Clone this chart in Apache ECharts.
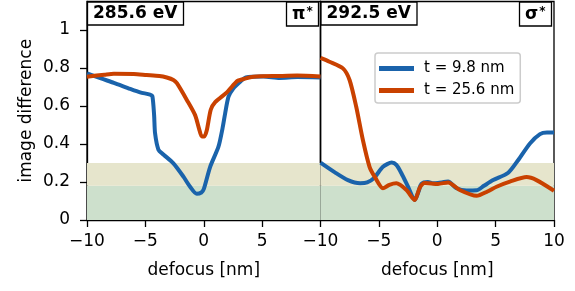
<!DOCTYPE html>
<html>
<head>
<meta charset="utf-8">
<script src="https://cdn.jsdelivr.net/npm/echarts@6/dist/echarts.min.js"></script>
<style>
  html, body { margin: 0; padding: 0; background: #fff; }
  #chart { width: 575px; height: 291px; }
</style>
</head>
<body>
<div id="chart"></div>
<script>
// 左图 285.6 eV (pi*)
var piX98 = [-10, -8.8, -7.7, -6.3, -5.45, -4.6, -4.4, -4.25, -4.17, -3.88, -3.46, -2.6, -1.74, -1.17, -0.6, -0.2, 0, 0.55, 1.26, 1.6, 1.83, 2.12, 2.5, 3.12, 3.6, 5.1, 6.5, 8, 10];
var piY98 = [0.772, 0.745, 0.722, 0.69, 0.672, 0.66, 0.652, 0.55, 0.456, 0.37, 0.345, 0.298, 0.228, 0.175, 0.138, 0.145, 0.162, 0.28, 0.386, 0.48, 0.56, 0.649, 0.69, 0.728, 0.75, 0.755, 0.748, 0.752, 0.75];
var piX256 = [-10, -8.5, -7.7, -6, -4.9, -3.8, -3.17, -2.6, -2.3, -1.45, -0.74, -0.4, -0.17, 0.05, 0.26, 0.6, 0.98, 1.98, 2.84, 3.12, 4.26, 6.5, 8, 10];
var piY256 = [0.754, 0.765, 0.77, 0.768, 0.763, 0.758, 0.75, 0.737, 0.72, 0.632, 0.552, 0.48, 0.44, 0.44, 0.472, 0.58, 0.62, 0.672, 0.73, 0.737, 0.754, 0.758, 0.76, 0.755];

// 右图 292.5 eV (sigma*)
var sigX98 = [-10, -8.8, -7.65, -6.6, -6.0, -5.4, -4.65, -3.9, -3.5, -3.07, -2.5, -1.93, -1.6, -1.36, -0.8, -0.36, 0.07, 0.93, 1.65, 2.5, 3.37, 4.0, 4.79, 6.08, 6.94, 7.94, 8.8, 9.4, 10];
var sigY98 = [0.302, 0.252, 0.21, 0.194, 0.198, 0.222, 0.28, 0.302, 0.29, 0.246, 0.175, 0.105, 0.15, 0.19, 0.2, 0.193, 0.195, 0.202, 0.167, 0.155, 0.156, 0.18, 0.21, 0.249, 0.316, 0.403, 0.452, 0.46, 0.46];
var sigX256 = [-10, -9.23, -8.08, -7.51, -6.94, -6.37, -5.8, -5.36, -4.65, -4.1, -3.5, -2.64, -1.93, -1.5, -1.07, 0.07, 0.93, 1.93, 3.37, 4.3, 5.08, 6.22, 7.65, 8.5, 10];
var sigY256 = [0.853, 0.833, 0.798, 0.737, 0.596, 0.421, 0.28, 0.228, 0.167, 0.185, 0.193, 0.158, 0.105, 0.17, 0.195, 0.19, 0.198, 0.158, 0.127, 0.15, 0.175, 0.202, 0.226, 0.21, 0.154];

var yTicks = [0, 0.2, 0.4, 0.6, 0.8, 1];
var bandLow = [0, 0.18];
var bandHigh = [0.18, 0.3];

var names = ['t = 9.8 nm', 't = 25.6 nm'];
var blue = '#1a63ab';
var orange = '#c94100';
var font = 'DejaVu Sans';

function pairs(xs, ys) {
    var out = [];
    for (var i = 0; i < xs.length; i++) {
        out.push([xs[i], ys[i]]);
    }
    return out;
}

function xAxisOf(idx, showMax) {
    return {
        type: 'value',
        gridIndex: idx,
        min: -10,
        max: 10,
        interval: 5,
        name: 'defocus [nm]',
        nameLocation: 'middle',
        nameGap: 42,
        nameTextStyle: { fontFamily: font, fontSize: 17, color: '#000' },
        axisLine: { onZero: false, lineStyle: { color: '#000', width: 1.3 } },
        axisTick: { show: true, inside: false, length: 7, lineStyle: { color: '#000', width: 1.3 } },
        axisLabel: {
            fontFamily: font, fontSize: 17, color: '#000', margin: 13,
            showMaxLabel: showMax, showMinLabel: true,
            formatter: function (v) { return String(v).replace('-', '\u2212'); }
        },
        splitLine: { show: false }
    };
}

function bandSeries(x, y) {
    return {
        type: 'line',
        xAxisIndex: x,
        yAxisIndex: y,
        data: [],
        silent: true,
        z: 1,
        markArea: {
            silent: true,
            data: [
                [{ yAxis: bandLow[0], itemStyle: { color: '#cde0cc' } }, { yAxis: bandLow[1] }],
                [{ yAxis: bandHigh[0], itemStyle: { color: '#e6e5cc' } }, { yAxis: bandHigh[1] }]
            ]
        }
    };
}

function lineSeries(name, idx, d, color) {
    return {
        name: name,
        type: 'line',
        xAxisIndex: idx,
        yAxisIndex: idx,
        data: d,
        smooth: 0.25,
        showSymbol: false,
        z: 3,
        lineStyle: { color: color, width: 4 },
        itemStyle: { color: color }
    };
}

var boxStyle = {
    borderColor: '#000',
    borderWidth: 1.3,
    backgroundColor: '#fff',
    padding: [4, 6, 3, 6]
};

var myChart = echarts.init(document.getElementById('chart'));

var option = {
    animation: false,
    title: [
        Object.assign({ text: '285.6 eV', left: 87, top: 1.5, textStyle: { fontFamily: font, fontSize: 17, fontWeight: 'bold', color: '#000' } }, boxStyle),
        Object.assign({ text: '292.5 eV', left: 320.5, top: 1.5, textStyle: { fontFamily: font, fontSize: 17, fontWeight: 'bold', color: '#000' } }, boxStyle),
        Object.assign({
            text: '{a|π}{b|*}', left: 286, top: 1.5,
            textStyle: { rich: { a: { fontFamily: font, fontSize: 17, fontWeight: 'bold', color: '#000' }, b: { fontFamily: font, fontSize: 12, color: '#000', verticalAlign: 'top', padding: [0, 0, 6, 1] } } }
        }, boxStyle),
        Object.assign({
            text: '{a|σ}{b|*}', left: 519, top: 1.5,
            textStyle: { rich: { a: { fontFamily: font, fontSize: 17, fontWeight: 'bold', color: '#000' }, b: { fontFamily: font, fontSize: 12, color: '#000', verticalAlign: 'top', padding: [0, 0, 6, 1] } } }
        }, boxStyle)
    ],
    legend: {
        data: names,
        orient: 'vertical',
        left: 375,
        top: 53,
        icon: 'rect',
        itemWidth: 35,
        itemHeight: 5,
        itemGap: 7,
        padding: [8, 6, 5, 4],
        borderColor: '#cccccc',
        borderWidth: 1.5,
        borderRadius: 3,
        backgroundColor: 'rgba(255,255,255,0.85)',
        textStyle: { fontFamily: font, fontSize: 15, color: '#000', padding: [0, 0, 0, 5] }
    },
    grid: [
        { left: 87, top: 1.5, width: 233.5, height: 218.5, show: true, borderColor: '#000', borderWidth: 1.3, backgroundColor: 'transparent' },
        { left: 320.5, top: 1.5, width: 233.5, height: 218.5, show: true, borderColor: '#000', borderWidth: 1.3, backgroundColor: 'transparent' }
    ],
    xAxis: [xAxisOf(0, false), xAxisOf(1, true)],
    yAxis: [{
        type: 'value',
        gridIndex: 0,
        min: 0,
        max: 1.15,
        name: 'image difference',
        nameLocation: 'middle',
        nameGap: 52,
        nameTextStyle: { fontFamily: font, fontSize: 17, color: '#000' },
        axisLine: { show: true, onZero: false, lineStyle: { color: '#000', width: 1.3 } },
        axisTick: { show: true, inside: false, length: 7, lineStyle: { color: '#000', width: 1.3 }, customValues: yTicks },
        axisLabel: { fontFamily: font, fontSize: 17, color: '#000', margin: 17, customValues: yTicks },
        splitLine: { show: false }
    }, {
        type: 'value',
        gridIndex: 1,
        min: 0,
        max: 1.15,
        axisLine: { show: true, onZero: false, lineStyle: { color: '#000', width: 1.3 } },
        axisTick: { show: false },
        axisLabel: { show: false },
        splitLine: { show: false }
    }],
    series: [
        bandSeries(0, 0),
        bandSeries(1, 1),
        lineSeries(names[0], 0, pairs(piX98, piY98), blue),
        lineSeries(names[1], 0, pairs(piX256, piY256), orange),
        lineSeries(names[0], 1, pairs(sigX98, sigY98), blue),
        lineSeries(names[1], 1, pairs(sigX256, sigY256), orange)
    ]
};
myChart.setOption(option);
</script>
</body>
</html>
